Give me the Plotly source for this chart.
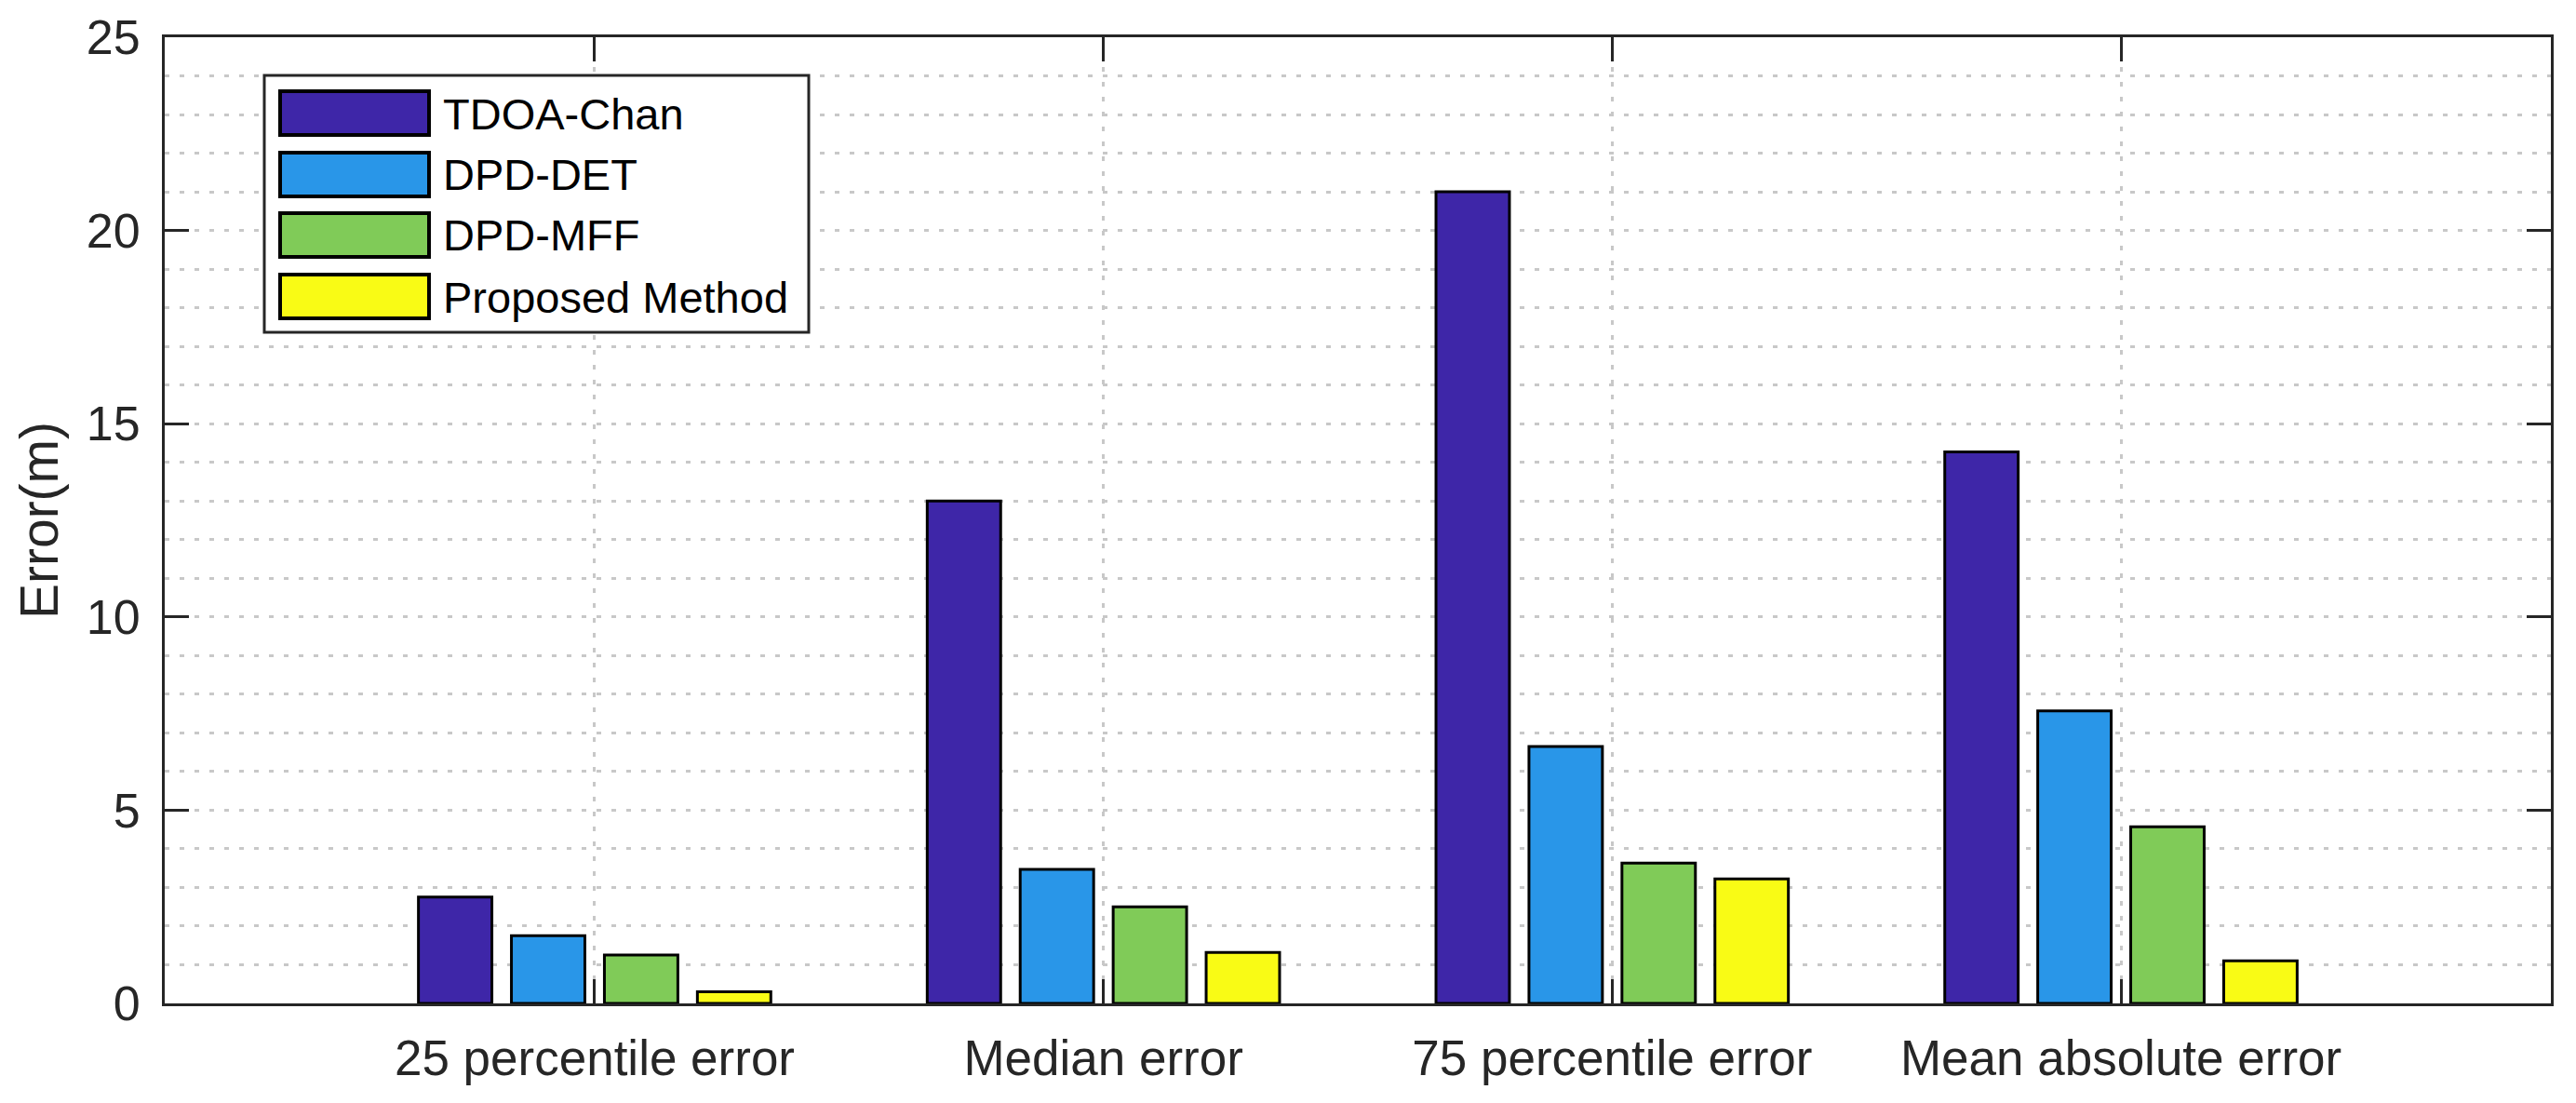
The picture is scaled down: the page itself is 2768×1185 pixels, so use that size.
import plotly.graph_objects as go

categories = ["25 percentile error", "Median error", "75 percentile error", "Mean absolute error"]
series_names = ["TDOA-Chan", "DPD-DET", "DPD-MFF", "Proposed Method"]
tdoa_chan = [2.75, 13.0, 21.0, 14.27]
dpd_det = [1.75, 3.47, 6.65, 7.57]
dpd_mff = [1.25, 2.50, 3.63, 4.57]
proposed = [0.30, 1.32, 3.22, 1.10]
colors = ["#3E26A8", "#2996E8", "#80CB58", "#F9FB15"]
y_ticks = [0, 5, 10, 15, 20, 25]

W, H = 2768, 1185
ML, MR, MT, MB = 177, 27, 40, 107
PW, PH = W - ML - MR, H - MT - MB

def px_x(px):
    return (px - ML) / PW

def px_y(py):
    return 1 - (py - MT) / PH

FONT = "Liberation Sans, Arial, Helvetica, sans-serif"
AX = "#262626"
GRID = "#c8c8c8"

fig = go.Figure()
for name, vals, col in zip(series_names, [tdoa_chan, dpd_det, dpd_mff, proposed], colors):
    fig.add_trace(go.Bar(
        x=categories, y=vals, name=name, showlegend=False,
        marker=dict(color=col, line=dict(color="black", width=3)),
    ))

# custom MATLAB-style legend (layout elements)
shapes = [dict(type="rect", xref="paper", yref="paper",
               x0=px_x(284), x1=px_x(869), y0=px_y(357), y1=px_y(81),
               line=dict(color=AX, width=3), fillcolor="white", layer="above")]
annotations = []
row_tops = [97, 163, 228, 294]
for top, name, col in zip(row_tops, series_names, colors):
    shapes.append(dict(type="rect", xref="paper", yref="paper",
                       x0=px_x(301), x1=px_x(461), y0=px_y(top + 48), y1=px_y(top + 1),
                       line=dict(color="black", width=4), fillcolor=col, layer="above"))
    annotations.append(dict(xref="paper", yref="paper", x=px_x(474), y=px_y(top + 25),
                            text=name, showarrow=False, xanchor="left", yanchor="middle",
                            font=dict(family=FONT, size=47, color="black")))

fig.update_layout(
    width=W, height=H,
    margin=dict(l=ML, r=MR, t=MT, b=MB, pad=0),
    paper_bgcolor="white", plot_bgcolor="white",
    barmode="group", bargap=0.269, bargroupgap=0.21,
    font=dict(family=FONT, color=AX),
    shapes=shapes, annotations=annotations,
    showlegend=False,
)
fig.update_xaxes(
    range=[-0.845, 3.845],
    showgrid=True, gridcolor=GRID, gridwidth=3, griddash="5px,11px",
    ticks="inside", ticklen=26, tickwidth=3, tickcolor=AX,
    showline=True, linecolor=AX, linewidth=3, mirror="ticks",
    tickfont=dict(family=FONT, size=53, color=AX),
    ticklabelstandoff=10,
)
fig.update_yaxes(
    range=[0, 25], tickvals=y_ticks,
    showgrid=True, gridcolor=GRID, gridwidth=3, griddash="5px,11px",
    minor=dict(dtick=1, showgrid=True, gridcolor=GRID, gridwidth=3, griddash="5px,11px", ticks=""),
    zeroline=False,
    ticks="inside", ticklen=26, tickwidth=3, tickcolor=AX,
    showline=True, linecolor=AX, linewidth=3, mirror="ticks",
    tickfont=dict(family=FONT, size=52, color=AX),
    ticklabelstandoff=13,
    title=dict(text="Error(m)", font=dict(family=FONT, size=57, color=AX), standoff=12),
)

fig.write_html("out.html", config={"displayModeBar": False},
               post_script="document.body.style.margin='0';")
